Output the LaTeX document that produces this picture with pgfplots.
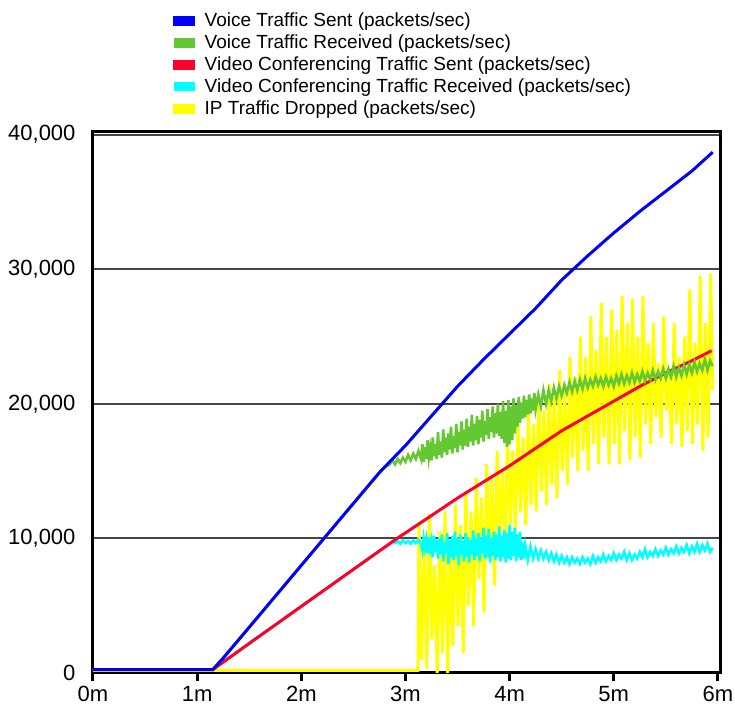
\documentclass[border=0pt]{standalone}
\usepackage{pgfplots}
\pgfplotsset{compat=1.18}
\usepackage{fontspec}
\setmainfont{Liberation Sans}
\usetikzlibrary{calc}
\definecolor{cblue}{RGB}{0,0,255}
\definecolor{cgreen}{RGB}{100,200,50}
\definecolor{cred}{RGB}{255,0,40}
\definecolor{ccyan}{RGB}{0,255,255}
\definecolor{cyellow}{RGB}{255,255,0}
\definecolor{cgrid}{RGB}{70,70,70}
\begin{document}
\begin{tikzpicture}
\begin{axis}[
  name=ax,
  scale only axis,
  width=627pt, height=541pt,
  xmin=0, xmax=6.02, ymin=0, ymax=40200,
  xtick={0,1,2,3,4,5,6},
  xticklabels={0m,1m,2m,3m,4m,5m,6m},
  ytick={0,10000,20000,30000,40000},
  xtick pos=bottom, ytick pos=left,
  scaled y ticks=false,
  /pgf/number format/assume math mode=true,
  /pgf/number format/1000 sep={,},
  ymajorgrids,
  grid style={draw=cgrid, line width=2pt},
  axis line style={line width=3pt, black},
  tick align=outside,
  major tick length=8pt,
  xtick style={line width=3pt, black},
  ytick style={draw=none},
  ticklabel style={font=\fontsize{22}{26}\selectfont},
  yticklabel style={xshift=-6pt},
  xticklabel style={yshift=-2pt},
  reverse legend,
  legend style={at={(0.123,1.23)}, anchor=north west, draw=none, fill=none,
    font=\fontsize{19}{22}\selectfont, row sep=0pt,
    nodes={inner sep=3.35pt}, cells={anchor=west}},
  legend image code/.code={\fill[#1] (0pt,-3.5pt) rectangle (19pt,3.5pt);},
  every axis legend/.append style={/tikz/every odd column/.style={column sep=6pt}},
]
% IP Traffic Dropped
\addplot[cyellow, line width=3pt] coordinates {
(0,200) (3.10,200) (3.12,200) (3.13,11200) (3.155,1000) (3.18,9500) (3.205,300) (3.23,11800) (3.255,2500) (3.28,8000) (3.305,0)
(3.33,10500) (3.355,1500) (3.38,12000) (3.405,0) (3.43,9000) (3.455,2000) (3.48,12500) (3.505,3500) (3.53,11000) (3.555,1500)
(3.58,13500) (3.605,5000) (3.63,12000) (3.655,3500) (3.68,14500) (3.705,7000) (3.73,13000) (3.755,4500) (3.78,15500) (3.805,8500)
(3.83,14500) (3.855,6500) (3.88,16500) (3.905,10000) (3.93,15000) (3.955,8500) (3.98,17500) (4.005,11000) (4.03,16500) (4.055,10500)
(4.08,18500) (4.105,12000) (4.13,17500) (4.155,11000) (4.18,19500) (4.205,12500) (4.23,18500) (4.255,12000) (4.28,20500) (4.305,13500)
(4.33,19500) (4.355,12500) (4.38,21500) (4.405,14000) (4.43,20500) (4.455,13000) (4.48,22500) (4.505,15000) (4.53,21000) (4.555,14000)
(4.58,23500) (4.605,16000) (4.63,22000) (4.655,15000) (4.68,25000) (4.705,16500) (4.73,23500) (4.755,15000) (4.78,26500) (4.805,17000)
(4.83,24000) (4.855,15500) (4.88,27500) (4.905,17500) (4.93,25000) (4.955,15500) (4.98,27000) (5.005,17000) (5.03,25500) (5.055,15500)
(5.08,28000) (5.105,18000) (5.13,26000) (5.155,15800) (5.18,27800) (5.205,17500) (5.23,25000) (5.255,16000) (5.28,28000) (5.305,18500)
(5.33,24500) (5.355,17000) (5.38,26000) (5.405,19000) (5.43,23000) (5.455,17500) (5.48,26500) (5.505,19500) (5.53,22500) (5.555,17000)
(5.58,26000) (5.605,18500) (5.63,23500) (5.655,16800) (5.68,25000) (5.705,18000) (5.73,28500) (5.755,17000) (5.78,24500) (5.805,18500)
(5.83,29500) (5.855,16500) (5.88,26000) (5.905,17500) (5.93,29700) (5.95,21000)
};
\addlegendentry{IP Traffic Dropped (packets/sec)}
% Video Conferencing Traffic Received
\addplot[ccyan, line width=2.6pt] coordinates {
(0,250) (1.15,250) (1.5,2200) (2,4950) (2.5,7700) (2.8,9350)
(2.85,9600) (2.875,9800) (2.9,9650) (2.925,9800) (2.95,9600) (2.975,9850) (3.0,9650) (3.025,9800) (3.05,9600) (3.075,9850) (3.1,9650) (3.125,9900)
(3.15,9600) (3.1625,9100) (3.175,10000) (3.1875,9300) (3.2,9900) (3.2125,8900) (3.225,10100) (3.2375,9200) (3.25,9800) (3.2625,8600)
(3.275,10200) (3.2875,9000) (3.3,9900) (3.3125,8500) (3.325,10000) (3.3375,8800) (3.35,10300) (3.3625,8300) (3.375,9700) (3.3875,8900)
(3.4,10400) (3.4125,8100) (3.425,9900) (3.4375,8600) (3.45,10200) (3.4625,8400) (3.475,10500) (3.4875,8700) (3.5,10000) (3.5125,8000)
(3.525,10300) (3.5375,8800) (3.55,9800) (3.5625,8300) (3.575,10400) (3.5875,8600) (3.6,10100) (3.6125,8200) (3.625,9900) (3.6375,8800)
(3.65,10600) (3.6625,8400) (3.675,10000) (3.6875,8700) (3.7,10400) (3.7125,8300) (3.725,10100) (3.7375,8900) (3.75,10800) (3.7625,8500)
(3.775,10200) (3.7875,8600) (3.8,10700) (3.8125,8200) (3.825,10000) (3.8375,8700) (3.85,10500) (3.8625,8400) (3.875,10300) (3.8875,8600)
(3.9,10900) (3.9125,8300) (3.925,10200) (3.9375,8600) (3.95,10600) (3.9625,8200) (3.975,10400) (3.9875,8500) (4.0,11000) (4.0125,8400)
(4.025,10500) (4.0375,8700) (4.05,10800) (4.0625,8300) (4.075,10300) (4.0875,8600) (4.1,10500) (4.1125,8400) (4.125,9700) (4.1375,8500)
(4.15,9500) (4.175,8400) (4.2,9400) (4.225,8500) (4.25,9200) (4.275,8500) (4.3,9100)
(4.325,8500) (4.35,9000) (4.375,8400) (4.4,8900) (4.425,8300) (4.45,8800) (4.475,8200) (4.5,8700) (4.525,8200) (4.55,8600)
(4.575,8100) (4.6,8600) (4.625,8200) (4.65,8500) (4.675,8100) (4.7,8600) (4.725,8200) (4.75,8500) (4.775,8100) (4.8,8700)
(4.825,8200) (4.85,8600) (4.875,8300) (4.9,8800) (4.925,8300) (4.95,8700) (4.975,8400) (5.0,8900) (5.025,8400) (5.05,8800)
(5.075,8500) (5.1,9000) (5.125,8400) (5.15,8900) (5.175,8400) (5.2,8800) (5.225,8500) (5.25,9000) (5.275,8600) (5.3,9200)
(5.325,8600) (5.35,9000) (5.375,8700) (5.4,9200) (5.425,8700) (5.45,9100) (5.475,8800) (5.5,9300) (5.525,8800) (5.55,9200)
(5.575,8900) (5.6,9400) (5.625,8900) (5.65,9300) (5.675,9000) (5.7,9500) (5.725,8900) (5.75,9400) (5.775,9000) (5.8,9600)
(5.825,9000) (5.85,9500) (5.875,9100) (5.9,9600) (5.925,9000) (5.95,9300)
};
\addlegendentry{Video Conferencing Traffic Received (packets/sec)}
% Video Conferencing Traffic Sent
\addplot[cred, line width=3pt] coordinates {
(0,250) (1.15,250) (1.5,2200) (2,4950) (2.5,7700) (2.92,10000) (3.25,11700) (3.5,13000) (3.75,14200) (4,15400)
(4.25,16700) (4.5,18000) (4.75,19100) (5,20200) (5.25,21300) (5.5,22300) (5.75,23200) (5.94,23950)
};
\addlegendentry{Video Conferencing Traffic Sent (packets/sec)}
% Voice Traffic Received
\addplot[cgreen, line width=2.6pt] coordinates {
(0,250) (1.15,250) (1.5,3400) (2,8000) (2.5,12600) (2.8,15300)
(2.85,15500) (2.875,15800) (2.9,15500) (2.925,15900) (2.95,15600) (2.975,16000) (3.0,15700) (3.025,16200) (3.05,15800) (3.075,16300)
(3.1,15900) (3.125,16500) (3.15,15900)
(3.1625,17000) (3.175,15700) (3.1875,16800) (3.2,15900) (3.2125,17300) (3.225,16000) (3.2375,16700) (3.25,15800) (3.2625,17500) (3.275,16100)
(3.2875,17000) (3.3,15900) (3.3125,17900) (3.325,16200) (3.3375,17200) (3.35,16000) (3.3625,18100) (3.375,16400) (3.3875,17500) (3.4,16200)
(3.4125,17800) (3.425,16600) (3.4375,18300) (3.45,16300) (3.4625,17600) (3.475,16700) (3.4875,18500) (3.5,16400) (3.5125,17900) (3.525,16900)
(3.5375,18700) (3.55,16600) (3.5625,18100) (3.575,16900) (3.5875,18900) (3.6,16800) (3.6125,18300) (3.625,17200) (3.6375,19200) (3.65,16900)
(3.6625,18500) (3.675,17300) (3.6875,19100) (3.7,17000) (3.7125,18800) (3.725,17500) (3.7375,19500) (3.75,17200) (3.7625,18700) (3.775,17700)
(3.7875,19600) (3.8,17400) (3.8125,19000) (3.825,17900) (3.8375,19800) (3.85,17500) (3.8625,19300) (3.875,17800) (3.8875,20000) (3.9,17600)
(3.9125,19400) (3.925,17400) (3.9375,20200) (3.95,17100) (3.9625,19500) (3.975,16800) (3.9875,20300) (4.0,17000) (4.0125,19800) (4.025,17300)
(4.0375,20400) (4.05,17800) (4.0625,19900) (4.075,18300) (4.0875,20500) (4.1,18600) (4.1125,20100) (4.125,18900) (4.1375,20600) (4.15,19000)
(4.1625,20300) (4.175,19200) (4.1875,20700) (4.2,19300) (4.2125,20400) (4.225,19500) (4.2375,20800) (4.25,19600) (4.275,20700) (4.3,19800)
(4.325,21000) (4.35,20000) (4.375,21000) (4.4,20200) (4.425,21200) (4.45,20400)
(4.475,21300) (4.5,20600) (4.525,21400) (4.55,20800) (4.575,21600) (4.6,20900) (4.625,21700) (4.65,21000) (4.675,21800) (4.7,21100)
(4.725,21900) (4.75,21200) (4.775,21800) (4.8,21300) (4.825,22000) (4.85,21400) (4.875,21900) (4.9,21300) (4.925,22000) (4.95,21400)
(4.975,21900) (5.0,21300) (5.025,22100) (5.05,21500) (5.075,22200) (5.1,21500) (5.125,22100) (5.15,21600) (5.175,22300) (5.2,21600)
(5.225,22200) (5.25,21700) (5.275,22400) (5.3,21700) (5.325,22300) (5.35,21800) (5.375,22500) (5.4,21800) (5.425,22400) (5.45,21900)
(5.475,22600) (5.5,21900) (5.525,22600) (5.55,22000) (5.575,22800) (5.6,22000) (5.625,22700) (5.65,22100) (5.675,22900) (5.7,22200)
(5.725,22900) (5.75,22300) (5.775,23100) (5.8,22400) (5.825,23000) (5.85,22500) (5.875,23300) (5.9,22500) (5.925,23200) (5.95,22800)
};
\addlegendentry{Voice Traffic Received (packets/sec)}
% Voice Traffic Sent
\addplot[cblue, line width=3pt] coordinates {
(0,250) (1.15,250) (1.25,1100) (1.5,3400) (1.75,5700) (2,8000) (2.25,10300) (2.5,12600) (2.75,14900) (3,16900)
(3.25,19100) (3.5,21300) (3.75,23300) (4,25200) (4.25,27100) (4.5,29200) (4.75,31000) (5,32700) (5.25,34300)
(5.5,35800) (5.75,37300) (5.95,38700)
};
\addlegendentry{Voice Traffic Sent (packets/sec)}
\end{axis}
\pgfresetboundingbox
\path ($(ax.south west)+(-93pt,-37pt)$) rectangle ($(ax.north east)+(15pt,132pt)$);
\end{tikzpicture}
\end{document}
